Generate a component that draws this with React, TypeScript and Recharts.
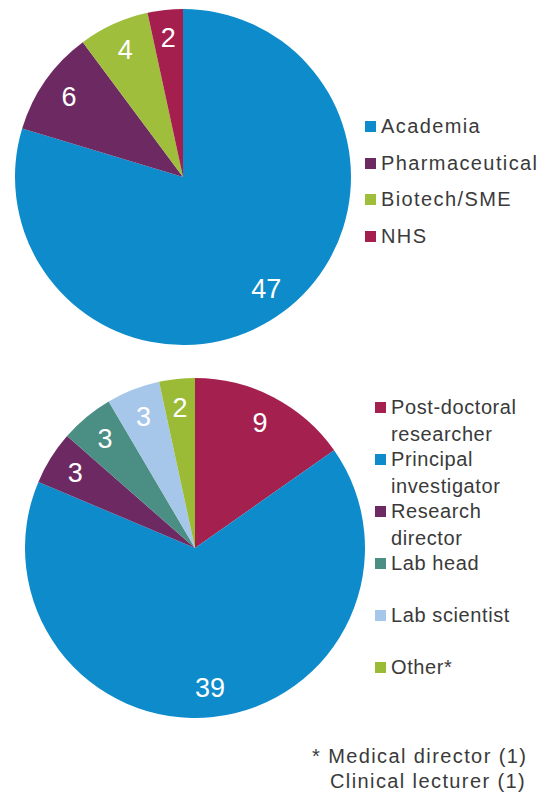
import React from 'react';
import { PieChart, Pie, Cell, Legend } from 'recharts';

// sector / career pies, same 59 respondents
const topNames = ['Academia', 'Pharmaceutical', 'Biotech/SME', 'NHS'];
const topValues = [47, 6, 4, 2];
const topColors = ['#0E8BCB', '#6D2A62', '#9FBE3C', '#A51F4E'];

const bottomNames = [
  'Post-doctoral researcher',
  'Principal investigator',
  'Research director',
  'Lab head',
  'Lab scientist',
  'Other*',
];
const bottomValues = [9, 39, 3, 3, 3, 2];
const bottomColors = ['#A3204F', '#0E8BCB', '#6D2A62', '#4B8E84', '#A6C7EA', '#9BBB36'];

const footnoteLines = ['* Medical director (1)', 'Clinical lecturer (1)'];

const FONT = '"Liberation Sans", Arial, sans-serif';
const RADIAN = Math.PI / 180;

const topData = topNames.map((name, i) => ({ name, value: topValues[i] }));
const bottomData = bottomNames.map((name, i) => ({ name, value: bottomValues[i] }));

const makeLabel = (fontSize: number) => (props: any) => {
  const { cx, cy, midAngle, outerRadius, value } = props;
  const r = outerRadius * 0.83;
  const x = cx + r * Math.cos(-midAngle * RADIAN);
  const y = cy + r * Math.sin(-midAngle * RADIAN);
  return (
    <text
      x={x}
      y={y}
      fill="#fff"
      textAnchor="middle"
      dominantBaseline="central"
      fontSize={fontSize}
      fontFamily={FONT}
    >
      {value}
    </text>
  );
};

const makeLegend =
  (names: string[], colors: string[], itemHeight: number, textWidth: number, spacing: number) =>
  () => (
    <div style={{ fontFamily: FONT, fontSize: 20, color: '#3a3a3a', letterSpacing: spacing }}>
      {names.map((n, i) => (
        <div key={n} style={{ display: 'flex', alignItems: 'flex-start', height: itemHeight }}>
          <span
            style={{
              display: 'inline-block',
              width: 11,
              height: 11,
              marginTop: 8,
              marginRight: 5,
              background: colors[i],
              flex: 'none',
            }}
          />
          <span style={{ width: textWidth, lineHeight: '27px' }}>{n}</span>
        </div>
      ))}
    </div>
  );

export default function App() {
  return (
    <div style={{ position: 'absolute', left: 0, top: 0, width: 550, height: 798, background: '#fff' }}>
      <div style={{ position: 'absolute', left: 0, top: 0 }}>
        <PieChart width={550} height={360} margin={{ top: 0, right: 0, bottom: 0, left: 0 }}>
          <Pie
            data={topData}
            dataKey="value"
            nameKey="name"
            cx={183}
            cy={177}
            outerRadius={168}
            startAngle={90}
            endAngle={-270}
            stroke="none"
            label={makeLabel(27)}
            labelLine={false}
            isAnimationActive={false}
          >
            {topData.map((d, i) => (
              <Cell key={d.name} fill={topColors[i]} />
            ))}
          </Pie>
          <Legend
            content={makeLegend(topNames, topColors, 36.5, 180, 1.4)}
            wrapperStyle={{ left: 365, top: 113, width: 185 }}
          />
        </PieChart>
      </div>
      <div style={{ position: 'absolute', left: 0, top: 370 }}>
        <PieChart width={550} height={360} margin={{ top: 0, right: 0, bottom: 0, left: 0 }}>
          <Pie
            data={bottomData}
            dataKey="value"
            nameKey="name"
            cx={195}
            cy={178}
            outerRadius={170}
            startAngle={90}
            endAngle={-270}
            stroke="none"
            label={makeLabel(27)}
            labelLine={false}
            isAnimationActive={false}
          >
            {bottomData.map((d, i) => (
              <Cell key={d.name} fill={bottomColors[i]} />
            ))}
          </Pie>
          <Legend
            content={makeLegend(bottomNames, bottomColors, 52, 150, 0.6)}
            wrapperStyle={{ left: 375, top: 24, width: 175 }}
          />
        </PieChart>
      </div>
      <div
        style={{
          position: 'absolute',
          left: 312,
          top: 744,
          fontFamily: FONT,
          fontSize: 20,
          letterSpacing: 1.4,
          color: '#3a3a3a',
          lineHeight: '25px',
          whiteSpace: 'nowrap',
        }}
      >
        <div>{footnoteLines[0]}</div>
        <div style={{ paddingLeft: 18 }}>{footnoteLines[1]}</div>
      </div>
    </div>
  );
}
